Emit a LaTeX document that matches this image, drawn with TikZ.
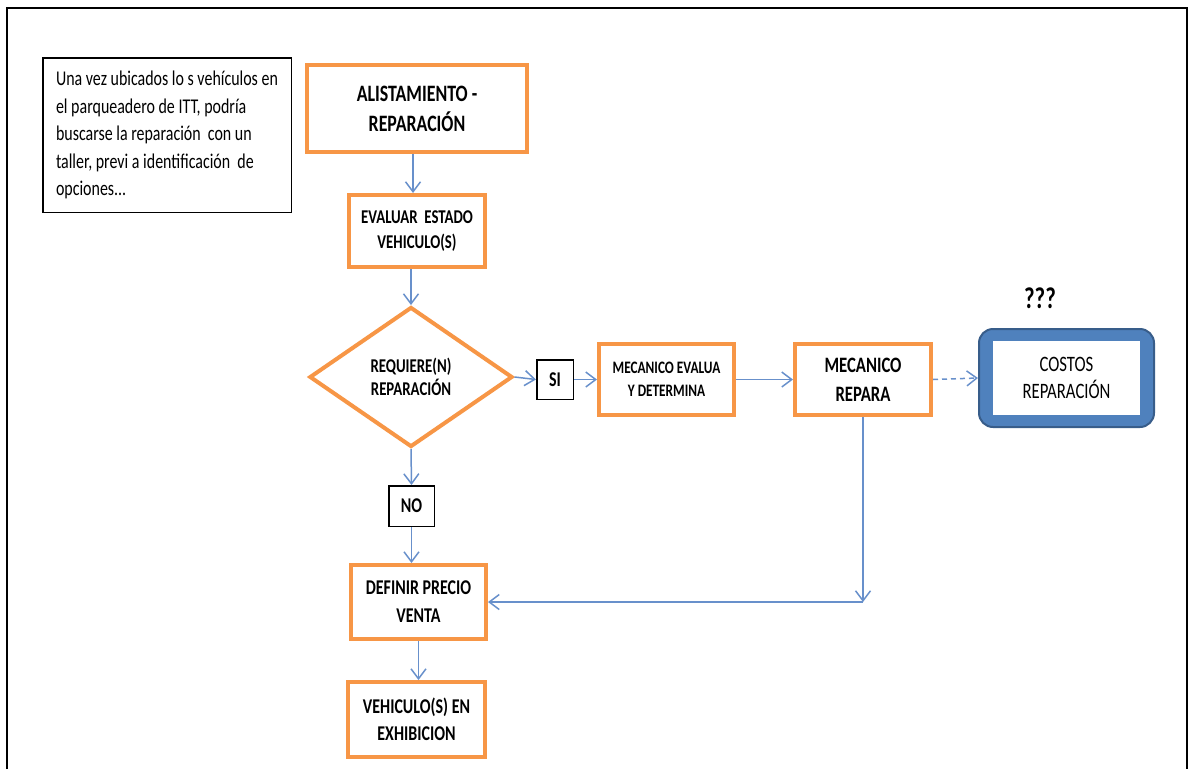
\documentclass[tikz,border=0pt]{standalone}
\usepackage{fontspec}
\setmainfont{Carlito}[FakeStretch=0.76]
\usetikzlibrary{shapes.geometric,arrows.meta}
\definecolor{naranja}{HTML}{F79646}
\definecolor{azul}{HTML}{4F81BD}
\definecolor{azuloscuro}{HTML}{385D8A}
\definecolor{flechaazul}{HTML}{6890CB}

\begin{document}
\begin{tikzpicture}[x=1pt,y=-1pt,
    caja/.style={draw=naranja,line width=4pt,align=center,inner sep=0pt},
    etiq/.style={draw=black,line width=1.5pt,inner sep=0pt},
    flecha/.style={draw=flechaazul,line width=1.5pt,-{Straight Barb[length=10pt,width=15pt]}}]
    \useasboundingbox (0,0) rectangle (1189,769);
    \draw[line width=2pt] (7,769) -- (7,8) -- (1187,8) -- (1187,769);

    \node[draw=black,line width=1.5pt,minimum width=248.5,minimum height=154.5,
          align=left,inner sep=0pt,
          font=\fontsize{21}{27.5}\selectfont] (nota) at (167,135)
          {Una vez ubicados lo s vehículos en\\el parqueadero de ITT, podría\\buscarse la reparación\ \ con un\\taller, previ a identificación\ \ de\\opciones...};

    \node[caja,minimum width=220,minimum height=87,font=\fontsize{23.5}{30}\selectfont\bfseries] (alist) at (417,108.5) {ALISTAMIENTO -\\REPARACIÓN};
    \node[caja,minimum width=136,minimum height=72,font=\fontsize{19.5}{25}\selectfont\bfseries] (evaluar) at (417,231) {EVALUAR\ \ ESTADO\\VEHICULO(S)};
    \node[caja,diamond,shape aspect=1.44,minimum width=203,minimum height=140,font=\fontsize{19.5}{23}\selectfont\bfseries] (rombo) at (411,377) {REQUIERE(N)\\REPARACIÓN};
    \node[etiq,minimum width=36.5,minimum height=39.5,font=\fontsize{21}{25}\selectfont\bfseries] (si) at (555,379.5) {SI};
    \node[caja,minimum width=135,minimum height=71,font=\fontsize{17.5}{23}\selectfont\bfseries] (mecev) at (666.5,379.5) {MECANICO EVALUA\\Y DETERMINA};
    \node[caja,minimum width=136,minimum height=71,font=\fontsize{22}{29}\selectfont\bfseries] (mecrep) at (863,379.5) {MECANICO\\REPARA};

    \node[draw=azuloscuro,fill=azul,line width=2pt,rounded corners=14pt,minimum width=175,minimum height=98] (costos) at (1066.5,378) {};
    \node[fill=white,minimum width=147,minimum height=74,align=center,inner sep=0pt,
          font=\fontsize{22}{27}\selectfont] (costostxt) at (costos.center) {COSTOS\\REPARACIÓN};
    \node[font=\fontsize{30}{30}\selectfont\bfseries] (pregunta) at (1040,298) {???};

    \node[etiq,minimum width=45.5,minimum height=40.5,font=\fontsize{21}{25}\selectfont\bfseries] (no) at (411.5,506) {NO};
    \node[caja,minimum width=135,minimum height=74,font=\fontsize{21}{28}\selectfont\bfseries] (definir) at (418.5,602) {DEFINIR PRECIO\\VENTA};
    \node[caja,minimum width=137,minimum height=75,font=\fontsize{21}{27}\selectfont\bfseries] (vehic) at (416.5,719.5) {VEHICULO(S) EN\\EXHIBICION};

    \coordinate (esq) at (mecrep.south |- definir.east);

    \draw[flecha] (alist.south -| 413,0) -- (evaluar.north -| 413,0);
    \draw[flecha] (evaluar.south -| rombo.north) -- (rombo.north);
    \draw[flecha] (rombo.east) -- (si.west);
    \draw[flecha] (si.east) -- (mecev.west);
    \draw[flecha] (mecev.east) -- (mecrep.west);
    \draw[flecha,dash pattern=on 5pt off 4pt] (mecrep.east) -- (costos.west);
    \draw[flecha] (rombo.south) -- (no.north);
    \draw[flecha] (no.south) -- (no.south |- definir.north);
    \draw[flecha] (mecrep.south) -- (esq);
    \draw[flecha] (esq) -- (definir.east);
    \draw[flecha] (definir.south) -- (definir.south |- vehic.north);
\end{tikzpicture}
\end{document}
